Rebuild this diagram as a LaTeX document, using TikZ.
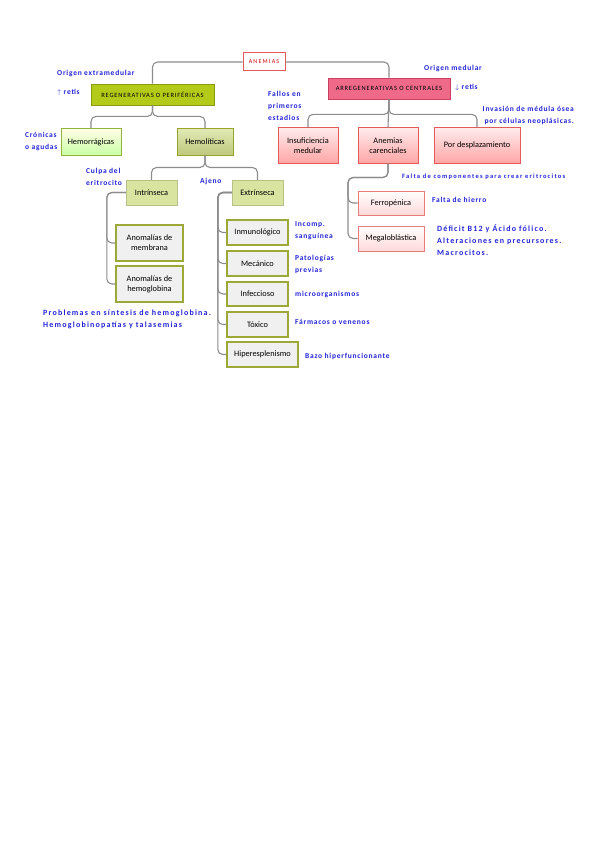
\documentclass[tikz,border=0pt]{standalone}
\usepackage{fontspec}
\setmainfont{Carlito}
\newfontfamily\notafont[LetterSpace=10]{Carlito}
\newfontfamily\capsfont[LetterSpace=12]{Carlito}
\usetikzlibrary{positioning}
\definecolor{azul}{HTML}{2323D8}
\definecolor{linea}{HTML}{8C8C8C}
\definecolor{oliva}{HTML}{B4CA18}
\definecolor{olivaborde}{HTML}{8A9A12}
\definecolor{rosa}{HTML}{EE6A88}
\definecolor{rosaborde}{HTML}{C8405E}
\definecolor{rojoborde}{HTML}{E25A5A}
\definecolor{verdeclaro}{HTML}{D8E4A0}
\definecolor{gris}{HTML}{F0F0F0}

\begin{document}
\begin{tikzpicture}[x=1pt,y=-1pt,
  every node/.style={font=\fontsize{8.3}{9.8}\selectfont, align=center, inner sep=1pt},
  conn/.style={draw=linea, line width=1.1pt, rounded corners=5pt},
  raiz/.style={draw=rojoborde, line width=1pt, fill=white, text=red!80!black, font=\capsfont\fontsize{6}{7}\selectfont\addfontfeature{LetterSpace=20}},
  tipoA/.style={draw=olivaborde, line width=0.8pt, fill=oliva, font=\capsfont\fontsize{6.5}{7}\selectfont},
  tipoB/.style={draw=rosaborde, line width=0.8pt, fill=rosa, font=\capsfont\fontsize{6.5}{7}\selectfont},
  rosada/.style={draw=rojoborde, line width=1pt, top color=red!8, bottom color=red!35},
  rosadaclara/.style={draw=rojoborde!80, line width=1pt, top color=white, bottom color=red!15},
  suave/.style={fill=verdeclaro, draw=verdeclaro!85!black, line width=0.4pt},
  grisbox/.style={fill=gris, draw=olivaborde!85, line width=1.2pt},
  nota/.style={text=azul, font=\notafont\bfseries\fontsize{7.5}{12}\selectfont, align=left, anchor=west, inner sep=0pt},
  notaancha/.style={nota, font=\notafont\bfseries\fontsize{8}{12}\selectfont\addfontfeature{LetterSpace=15}}]
\useasboundingbox (0,0) rectangle (599,848);

\node[raiz, minimum width=42, minimum height=18] (anem) at (264,62) {ANEMIAS};
\node[tipoA, minimum width=123, minimum height=21] (regen) at (152.5,94.5) {REGENERATIVAS O PERIFÉRICAS};
\node[tipoB, minimum width=122, minimum height=21] (arreg) at (389,88.5) {ARREGENERATIVAS O CENTRALES};

\node[draw=yellow!60!green!80!black, line width=1pt, top color=yellow!10, bottom color=yellow!40!green!35, minimum width=60, minimum height=26] (hemorr) at (91,142) {Hemorrágicas};
\node[draw=olivaborde!90, line width=1pt, top color=verdeclaro!80, bottom color=olivaborde!55, minimum width=56, minimum height=26] (hemol) at (205,142) {Hemolíticas};

\node[rosada, minimum width=60, minimum height=35] (insuf) at (308,145.5) {Insuficiencia\\medular};
\node[rosada, minimum width=60, minimum height=35] (caren) at (388,145.5) {Anemias\\carenciales};
\node[rosada, minimum width=86, minimum height=35] (despl) at (477,145.5) {Por desplazamiento};

\node[suave, minimum width=51, minimum height=25] (intr) at (151.5,192.5) {Intrínseca};
\node[suave, minimum width=51, minimum height=25] (extr) at (257.5,192.5) {Extrínseca};

\node[grisbox, minimum width=67, minimum height=36] (memb) at (149.5,243) {Anomalías de\\membrana};
\node[grisbox, minimum width=67, minimum height=36] (hemog) at (149.5,284) {Anomalías de\\hemoglobina};

\node[grisbox, minimum width=61, minimum height=25] (inmu) at (257.5,232.5) {Inmunológico};
\node[grisbox, minimum width=61, minimum height=25] (meca) at (257.5,263.5) {Mecánico};
\node[grisbox, minimum width=61, minimum height=24] (infec) at (257.5,294) {Infeccioso};
\node[grisbox, minimum width=61, minimum height=25] (toxi) at (257.5,324.5) {Tóxico};
\node[grisbox, minimum width=71, minimum height=25] (hiper) at (262.5,354.5) {Hiperesplenismo};

\node[rosadaclara, minimum width=66, minimum height=24] (ferro) at (391,203) {Ferropénica};
\node[rosadaclara, minimum width=66, minimum height=25] (mega) at (391,238.5) {Megaloblástica};

\draw[conn] (anem.west) -| (regen.north);
\draw[conn] (anem.east) -| (arreg.north);
\draw[conn] (regen.south) -- ++(0,11) -| (hemorr.north);
\draw[conn] (regen.south) -- ++(0,11) -| (hemol.north);
\draw[conn] (arreg.south) -- ++(0,15) -| (insuf.north);
\draw[conn] (arreg.south) -- (caren.north);
\draw[conn] (arreg.south) -- ++(0,15) -| (despl.north);
\draw[conn] (hemol.south) -- ++(0,12) -| (intr.north);
\draw[conn] (hemol.south) -- ++(0,12) -| (extr.north);
\draw[conn] (intr.west) -- ++(-19,0) |- (memb.west);
\draw[conn] (intr.west) -- ++(-19,0) |- (hemog.west);
\foreach \n in {inmu,meca,infec,toxi,hiper}
  \draw[conn] (extr.west) -- ++(-14,0) |- (\n.west);
\draw[conn] (caren.south) -- ++(0,14) -- ++(-40,0) |- (ferro.west);
\draw[conn] (caren.south) -- ++(0,14) -- ++(-40,0) |- (mega.west);

\node[nota] (n1) at (57,74) {Origen extramedular};
\node[nota] (n2) at (57,93) {$\uparrow$ retis};
\node[nota] (n3) at (25,142) {Crónicas\\o agudas};
\node[nota] (n4) at (268,106) {Fallos en\\primeros\\estadios};
\node[nota] (n5) at (424,69) {Origen medular};
\node[nota] (n6) at (455,88) {$\downarrow$ retis};
\node[nota, align=right, anchor=east] (n7) at (574,115) {Invasión de médula ósea\\por células neoplásicas.};
\node[nota] (n8) at (86,177) {Culpa del\\eritrocito};
\node[nota] (n9) at (200,182) {Ajeno};
\node[notaancha] (n10) at (43,319) {Problemas en síntesis de hemoglobina.\\Hemoglobinopatías y talasemias};
\node[nota, font=\notafont\bfseries\fontsize{6.5}{7}\selectfont\addfontfeature{LetterSpace=19}] (n11) at (402,177) {Falta de componentes para crear eritrocitos};
\node[nota] (n12) at (432,200) {Falta de hierro};
\node[notaancha] (n13) at (437,240) {Déficit B12 y Ácido fólico.\\Alteraciones en precursores.\\Macrocitos.};
\node[nota] (n14) at (295,231) {Incomp.\\sanguínea};
\node[nota] (n15) at (295,264) {Patologías\\previas};
\node[nota] (n16) at (295,295) {microorganismos};
\node[nota] (n17) at (295,322) {Fármacos o venenos};
\node[nota] (n18) at (305,356) {Bazo hiperfuncionante};
\end{tikzpicture}
\end{document}
